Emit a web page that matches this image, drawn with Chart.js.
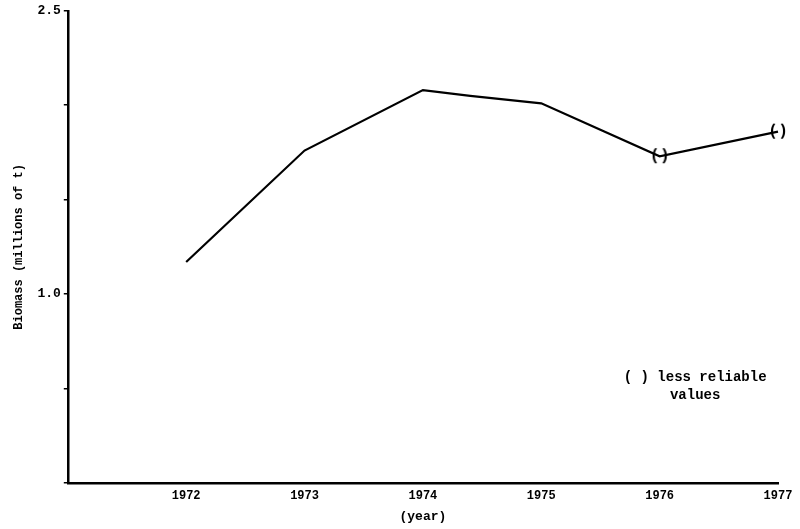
<!DOCTYPE html>
<html lang="en">
<head>
<meta charset="UTF-8">
<title>Biomass</title>
<script src="https://cdn.jsdelivr.net/npm/chart.js@4/dist/chart.umd.min.js"></script>
<style>
  html, body { margin: 0; padding: 0; background: #fff; }
  #wrap { width: 800px; height: 529px; }
</style>
</head>
<body>
<div id="wrap"><canvas id="chart" width="800" height="529"></canvas></div>
<script>
// values
const years = [1972, 1973, 1974, 1974.4, 1975, 1976, 1977];
const biomass = [1.17, 1.76, 2.08, 2.05, 2.01, 1.73, 1.86];
const lessReliable = [false, false, false, false, false, true, true];
const yLabelsShown = [1.0, 2.5];
const xTickYears = [1972, 1973, 1974, 1975, 1976, 1977];

const FONT = '"Liberation Mono", "DejaVu Sans Mono", monospace';

// "( )" marker for less reliable values
function bracketMark() {
    const c = document.createElement('canvas');
    c.width = 18; c.height = 20;
    const g = c.getContext('2d');
    g.fillStyle = '#000';
    g.font = 'bold 16px ' + FONT;
    g.textAlign = 'center';
    g.textBaseline = 'middle';
    g.fillText('(', 4, 10);
    g.fillText(')', 14, 10);
    return c;
}
const mark = bracketMark();

const notePlugin = {
    id: 'note',
    afterDraw(chart) {
        const ctx = chart.ctx;
        const x = chart.scales.x.getPixelForValue(1976.3);
        const y = chart.scales.y.getPixelForValue(0.54);
        ctx.save();
        ctx.fillStyle = '#000';
        ctx.font = 'bold 14px ' + FONT;
        ctx.textAlign = 'center';
        ctx.fillText('( ) less reliable', x, y);
        ctx.fillText('values', x, y + 18);
        ctx.restore();
    }
};

new Chart(document.getElementById('chart'), {
    type: 'line',
    data: {
        datasets: [{
            data: years.map((yr, i) => ({ x: yr, y: biomass[i] })),
            borderColor: '#000',
            borderWidth: 2.2,
            tension: 0,
            clip: false,
            pointStyle: lessReliable.map(f => f ? mark : false),
            pointRadius: lessReliable.map(f => f ? 8 : 0)
        }]
    },
    options: {
        responsive: false,
        animation: false,
        layout: { padding: { top: 10, right: 22, bottom: 0, left: 12 } },
        plugins: { legend: { display: false }, tooltip: { enabled: false } },
        scales: {
            x: {
                type: 'linear',
                min: 1971, max: 1977,
                border: { color: '#000', width: 2.5 },
                grid: { display: false, drawTicks: false },
                afterBuildTicks: s => { s.ticks = xTickYears.map(v => ({ value: v })); },
                ticks: {
                    color: '#000', padding: 6,
                    font: { family: FONT, size: 12, weight: 'bold' },
                    callback: v => String(v)
                },
                title: {
                    display: true, text: '(year)', color: '#000',
                    font: { family: FONT, size: 13, weight: 'bold' },
                    padding: { top: 0, bottom: 4 }
                }
            },
            y: {
                min: 0, max: 2.5,
                border: { color: '#000', width: 2.5 },
                grid: { drawOnChartArea: false, tickLength: 4, color: '#000', lineWidth: 1.5 },
                ticks: {
                    stepSize: 0.5, color: '#000', padding: 3,
                    font: { family: FONT, size: 13, weight: 'bold' },
                    callback: v => yLabelsShown.some(l => Math.abs(l - v) < 1e-6) ? v.toFixed(1) : ''
                },
                title: {
                    display: true, text: 'Biomass (millions of t)', color: '#000',
                    font: { family: FONT, size: 12, weight: 'bold' },
                    padding: { top: 0, bottom: 8 }
                }
            }
        }
    },
    plugins: [notePlugin]
});
</script>
</body>
</html>
